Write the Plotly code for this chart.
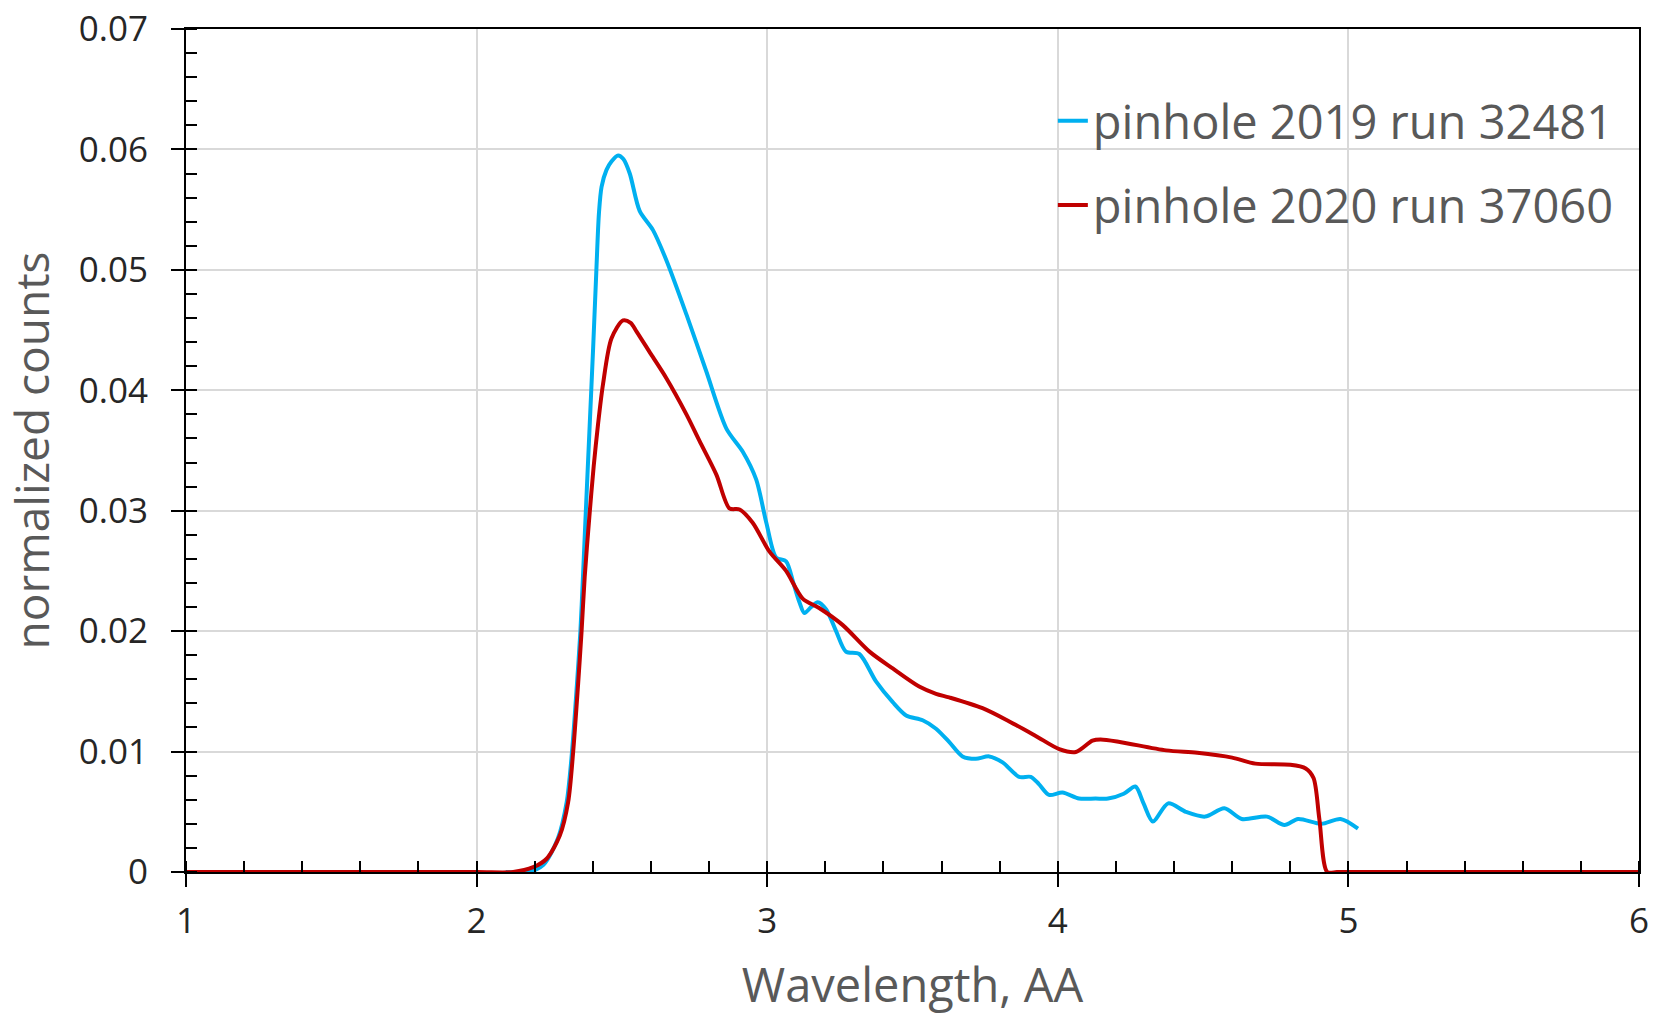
"""Normalized wavelength spectra for two pinhole runs."""

import plotly.graph_objects as go

# pinhole 2019 run 32481
WL_2019 = [
    2.10, 2.18, 2.23, 2.28, 2.31, 2.328, 2.345, 2.357, 2.366, 2.375, 2.389,
    2.401, 2.412, 2.421, 2.43, 2.447, 2.464, 2.487, 2.505, 2.527, 2.561, 2.607,
    2.653, 2.722, 2.79, 2.86, 2.916, 2.962, 2.997, 3.031, 3.065, 3.09, 3.111,
    3.128, 3.151, 3.174, 3.203, 3.237, 3.271, 3.317, 3.375, 3.432, 3.478,
    3.535, 3.581, 3.626, 3.672, 3.718, 3.764, 3.81, 3.867, 3.907, 3.935, 3.97,
    4.016, 4.073, 4.13, 4.173, 4.227, 4.267, 4.295, 4.327, 4.38, 4.44, 4.507,
    4.573, 4.633, 4.72, 4.78, 4.827, 4.907, 4.973, 5.033,
]
COUNTS_2019 = [
    0, 0, 0.0006, 0.0028, 0.0058, 0.0099, 0.0155, 0.0199, 0.0245, 0.0295,
    0.037, 0.0435, 0.0499, 0.0547, 0.0569, 0.0583, 0.059, 0.0595, 0.0592,
    0.058, 0.0549, 0.0533, 0.0508, 0.0463, 0.0416, 0.0368, 0.0349, 0.0326,
    0.029, 0.0261, 0.0258, 0.024, 0.0224, 0.0215, 0.022, 0.0224, 0.0218,
    0.020, 0.0183, 0.0181, 0.0158, 0.0141, 0.013, 0.0126, 0.0119, 0.0108,
    0.0096, 0.0094, 0.0096, 0.0091, 0.0079, 0.0079, 0.0073, 0.0064, 0.0066,
    0.0061, 0.0061, 0.0061, 0.0065, 0.0071, 0.0057, 0.0042, 0.0057, 0.005,
    0.0046, 0.0053, 0.0044, 0.0046, 0.0039, 0.0044, 0.004, 0.0044, 0.0036,
]

# pinhole 2020 run 37060
WL_2020 = [
    1.0, 2.0, 2.126, 2.195, 2.241, 2.286, 2.315, 2.332, 2.349, 2.361, 2.372,
    2.388, 2.403, 2.418, 2.435, 2.464, 2.504, 2.53, 2.55, 2.60, 2.653, 2.722,
    2.767, 2.825, 2.87, 2.905, 2.95, 3.008, 3.065, 3.122, 3.18, 3.26, 3.352,
    3.432, 3.523, 3.581, 3.626, 3.741, 3.833, 3.924, 4.005, 4.062, 4.119,
    4.147, 4.213, 4.373, 4.48, 4.6, 4.68, 4.8, 4.853, 4.88, 4.9, 4.927, 4.96,
    5.0, 6.0,
]
COUNTS_2020 = [
    0, 0, 0, 0.0004, 0.0011, 0.003, 0.0058, 0.0099, 0.0155, 0.0199, 0.0245,
    0.0295, 0.0337, 0.0372, 0.0405, 0.0443, 0.0458, 0.0456, 0.0449, 0.043,
    0.041, 0.038, 0.0358, 0.033, 0.0302, 0.0301, 0.029, 0.0266, 0.025, 0.0227,
    0.0219, 0.0205, 0.0183, 0.0169, 0.0154, 0.0148, 0.0145, 0.0136, 0.0125,
    0.0113, 0.0102, 0.00996, 0.0109, 0.011, 0.0108, 0.0101, 0.0099, 0.0095,
    0.009, 0.0089, 0.0086, 0.0078, 0.0044, 0, 0, 0, 0,
]

X_RANGE = [1, 6]
Y_RANGE = [0, 0.07]

BLUE = "#00b0f0"
RED = "#c00000"
GRID = "#d9d9d9"
FONT = "Open Sans"
TICK_FONT = dict(family=FONT, size=35, color="#262626")
TITLE_FONT = dict(family=FONT, size=47, color="#595959")

fig = go.Figure()
fig.add_trace(go.Scatter(
    x=WL_2019,
    y=COUNTS_2019,
    mode="lines",
    name="pinhole 2019 run 32481",
    line=dict(color=BLUE, width=4, shape="spline", smoothing=0.8),
    legendgroup="2019",
))
# drawn on the overlay axes so it sits on top and the inner half of the
# major ticks can come from those axes
fig.add_trace(go.Scatter(
    x=WL_2020,
    y=COUNTS_2020,
    mode="lines",
    name="pinhole 2020 run 37060",
    line=dict(color=RED, width=4, shape="spline", smoothing=0.8),
    legendgroup="2020",
    xaxis="x2",
    yaxis="y2",
))

common_axis = dict(
    automargin=False,
    showline=True,
    linecolor="black",
    linewidth=2,
    mirror=True,
    ticks="outside",
    ticklen=13,
    tickwidth=2,
    tickcolor="black",
    showgrid=True,
    gridcolor=GRID,
    gridwidth=2,
    zeroline=False,
    tickfont=TICK_FONT,
    ticklabeloverflow="allow",
)
overlay_axis = dict(
    automargin=False,
    ticks="inside",
    ticklen=11,
    tickwidth=2,
    tickcolor="black",
    showticklabels=False,
    showgrid=False,
    showline=False,
    zeroline=False,
)

fig.update_layout(
    width=1653,
    height=1016,
    margin=dict(l=186, r=14, t=29, b=144, pad=0),
    paper_bgcolor="white",
    plot_bgcolor="white",
    font=dict(family=FONT),
    xaxis=dict(
        **common_axis,
        range=X_RANGE,
        tick0=1,
        dtick=1,
        ticklabelstandoff=4,
        minor=dict(ticks="inside", ticklen=11, tickwidth=2, tickcolor="black",
                   tick0=1, dtick=0.2, showgrid=False),
        title=dict(text="Wavelength, AA", font=TITLE_FONT, standoff=37),
    ),
    yaxis=dict(
        **common_axis,
        range=Y_RANGE,
        tick0=0,
        dtick=0.01,
        ticklabelstandoff=16,
        minor=dict(ticks="inside", ticklen=11, tickwidth=2, tickcolor="black",
                   tick0=0, dtick=0.002, showgrid=False),
        title=dict(text="normalized counts", font=dict(TITLE_FONT, size=46), standoff=24),
    ),
    xaxis2=dict(**overlay_axis, overlaying="x", anchor="y2", range=X_RANGE, tick0=1, dtick=1),
    yaxis2=dict(**overlay_axis, overlaying="y", anchor="x2", range=Y_RANGE, tick0=0, dtick=0.01),
    legend=dict(
        x=0.5966,
        y=0.935,
        xanchor="left",
        yanchor="top",
        font=dict(family=FONT, size=47, color="#595959"),
        bgcolor="rgba(0,0,0,0)",
        tracegroupgap=20,
    ),
    showlegend=True,
)

# drop the default body margin so the figure fills the window exactly
fig.write_html(
    "out.html",
    config={"displayModeBar": False},
    post_script="document.body.style.margin = '0';",
)
